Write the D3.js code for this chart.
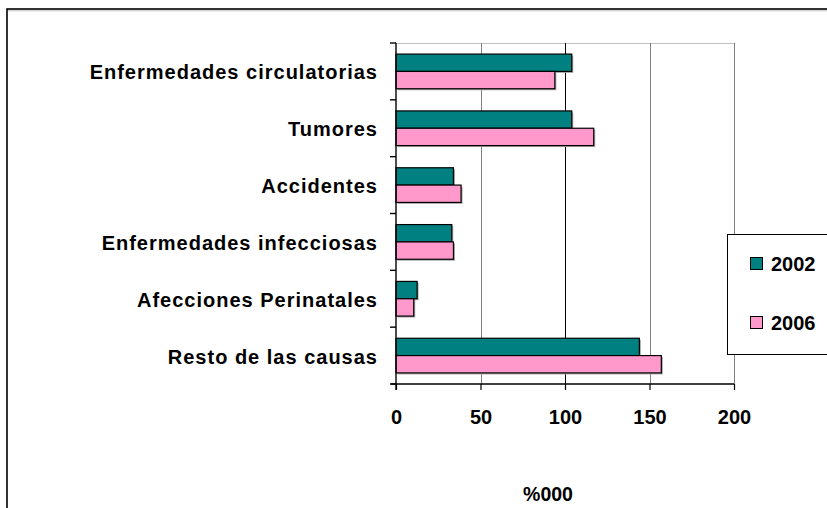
<!DOCTYPE html>
<html>
<head>
<meta charset="utf-8">
<script src="https://cdn.jsdelivr.net/npm/d3@7/dist/d3.min.js"></script>
<style>
  html, body { margin: 0; padding: 0; background: #fff; }
  svg { display: block; }
  text { font-family: "Liberation Sans", Arial, sans-serif; font-weight: bold; fill: #000; }
</style>
</head>
<body>
<svg id="chart" width="827" height="508"></svg>
<script>
const categories = ["Enfermedades circulatorias", "Tumores", "Accidentes", "Enfermedades infecciosas", "Afecciones Perinatales", "Resto de las causas"];
const seriesNames = ["2002", "2006"];
const values2002 = [104, 104, 34, 33, 12.5, 144];
const values2006 = [94, 117, 38.5, 34, 10.5, 157];
const xTicks = [0, 50, 100, 150, 200];
const xTitle = "%000";
const colors = ["#008080", "#FF99CC"];

const svg = d3.select("#chart");
const W = 827, H = 508;
const plot = { left: 396, right: 734, top: 43, bottom: 384 };

// outer chart border
svg.append("rect").attr("x", 7).attr("y", 9).attr("width", W + 20).attr("height", H + 20)
  .attr("fill", "none").attr("stroke", "#000").attr("stroke-width", 1.6);
svg.append("line").attr("x1", 8).attr("x2", W).attr("y1", 10.8).attr("y2", 10.8)
  .attr("stroke", "#c0c0c0").attr("stroke-width", 1);

const x = d3.scaleLinear().domain([0, 200]).range([plot.left, plot.right]);
const y = d3.scaleBand().domain(categories).range([plot.top, plot.bottom])
  .paddingInner(0.39).paddingOuter(0.195);
const ySub = d3.scaleBand().domain(seriesNames).range([0, y.bandwidth()]);

// plot top border
svg.append("line").attr("x1", plot.left).attr("x2", plot.right)
  .attr("y1", plot.top + 0.5).attr("y2", plot.top + 0.5)
  .attr("stroke", "#c0c0c0").attr("stroke-width", 1);

// gridlines
svg.append("g").selectAll("line").data(xTicks.filter(d => d > 0)).join("line")
  .attr("x1", d => Math.round(x(d)) + 0.5).attr("x2", d => Math.round(x(d)) + 0.5)
  .attr("y1", plot.top).attr("y2", plot.bottom)
  .attr("stroke", d => d === 100 ? "#000" : "#808080").attr("stroke-width", 1);

// bars
const data = categories.map((c, i) => ({ cat: c, vals: [values2002[i], values2006[i]] }));
const groups = svg.append("g").selectAll("g").data(data).join("g")
  .attr("transform", d => `translate(0,${y(d.cat)})`);
groups.selectAll("rect.shadow").data(d => d.vals.map((v, j) => ({ v, s: seriesNames[j], j }))).join("rect")
  .attr("class", "shadow")
  .attr("x", x(0) + 1.5).attr("y", d => ySub(d.s) + 1.5)
  .attr("width", d => x(d.v) - x(0)).attr("height", ySub.bandwidth())
  .attr("fill", "#a8a8a8");
groups.selectAll("rect.bar").data(d => d.vals.map((v, j) => ({ v, s: seriesNames[j], j }))).join("rect")
  .attr("class", "bar")
  .attr("x", x(0)).attr("y", d => ySub(d.s))
  .attr("width", d => x(d.v) - x(0)).attr("height", ySub.bandwidth())
  .attr("fill", d => colors[d.j]).attr("stroke", "#000").attr("stroke-width", 1.2);

// y axis
svg.append("line").attr("x1", plot.left).attr("x2", plot.left)
  .attr("y1", plot.top).attr("y2", plot.bottom + 6)
  .attr("stroke", "#000").attr("stroke-width", 1.4);
const boundaries = categories.map((c, i) => plot.top + i * y.step()).concat([plot.bottom]);
svg.append("g").selectAll("line").data(boundaries).join("line")
  .attr("x1", plot.left - 6).attr("x2", plot.left)
  .attr("y1", d => d).attr("y2", d => d)
  .attr("stroke", "#000").attr("stroke-width", 1.4);
svg.append("g").selectAll("text").data(categories).join("text")
  .attr("x", 378).attr("y", d => y(d) + y.bandwidth() / 2 + 1)
  .attr("text-anchor", "end").attr("dominant-baseline", "central")
  .attr("font-size", 20).style("letter-spacing", "1px")
  .text(d => d);

// x axis
const xAxis = svg.append("g").attr("transform", `translate(0,${plot.bottom})`)
  .call(d3.axisBottom(x).tickValues(xTicks).tickSize(6).tickPadding(18).tickSizeOuter(0));
xAxis.select(".domain").remove();
xAxis.selectAll(".tick line").attr("stroke", "#000").attr("stroke-width", 1.2);
xAxis.selectAll(".tick text").attr("font-size", 20).attr("font-family", null)
  .attr("dy", "0.35em").attr("y", 33);
svg.append("line").attr("x1", plot.left - 5).attr("x2", plot.right)
  .attr("y1", plot.bottom).attr("y2", plot.bottom)
  .attr("stroke", "#000").attr("stroke-width", 1.4);

svg.append("text").attr("x", 548).attr("y", 494).attr("dominant-baseline", "central")
  .attr("text-anchor", "middle").attr("font-size", 19.5).text(xTitle);

// legend
const lg = svg.append("g");
lg.append("rect").attr("x", 727.5).attr("y", 234.5).attr("width", 120).attr("height", 120)
  .attr("fill", "#fff").attr("stroke", "#000").attr("stroke-width", 1);
const items = lg.selectAll("g").data(seriesNames).join("g")
  .attr("transform", (d, i) => `translate(750,${257 + i * 59})`);
items.append("rect").attr("x", 0.5).attr("y", 0.5).attr("width", 12).attr("height", 12)
  .attr("fill", (d, i) => colors[i]).attr("stroke", "#000").attr("stroke-width", 1);
items.append("text").attr("x", 21).attr("y", 7).attr("dominant-baseline", "central")
  .attr("font-size", 20).text(d => d);
</script>
</body>
</html>
